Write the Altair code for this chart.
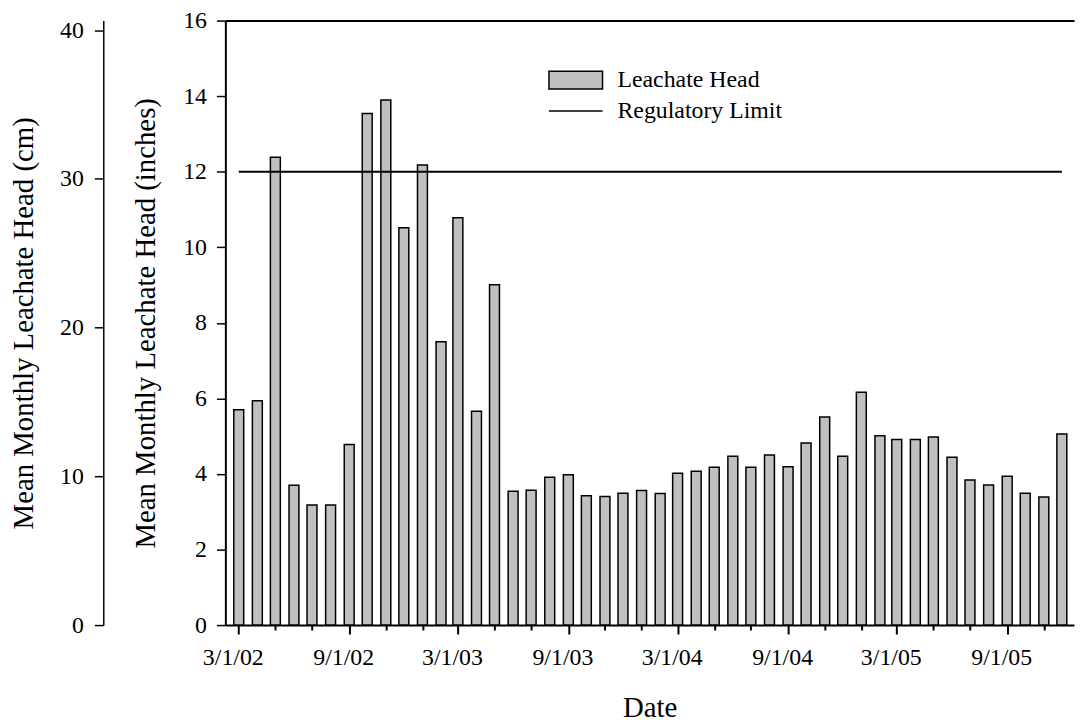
import altair as alt
import pandas as pd

# ---- data ----
months = pd.date_range("2002-03-01", periods=46, freq="MS").strftime("%Y-%m-%dT00:00:00").tolist()
head_in = [5.70, 5.94, 12.38, 3.70, 3.18, 3.18, 4.78, 13.54, 13.90, 10.52, 12.18, 7.50, 10.78, 5.66, 9.01, 3.54,
           3.57, 3.91, 3.98, 3.42, 3.40, 3.49, 3.56, 3.48, 4.02, 4.07, 4.18, 4.47, 4.18, 4.50, 4.19, 4.82,
           5.51, 4.47, 6.16, 5.01, 4.91, 4.91, 4.98, 4.44, 3.84, 3.71, 3.94, 3.49, 3.39, 5.06]
limit_dates = ["2002-03-01T00:00:00", "2005-12-01T00:00:00"]
limit_value = [12, 12]
inch_ticks = [0, 2, 4, 6, 8, 10, 12, 14, 16]
cm_ticks = [0, 10, 20, 30, 40]
tick_dates = pd.date_range("2002-03-01", "2005-11-01", freq="2MS")

FONT = "Liberation Serif"
bars_df = pd.DataFrame({"date": months, "inches": head_in, "series": "Leachate Head"})
bars_df["cm"] = bars_df["inches"] * 2.54
limit_df = pd.DataFrame({"date": limit_dates[:1], "date2": limit_dates[1:], "inches": limit_value[:1],
                         "series": "Regulatory Limit"})

x_domain = [alt.DateTime(year=2002, month=2, date=15), alt.DateTime(year=2005, month=12, date=13)]
x_scale = alt.Scale(domain=x_domain)
x_values = [alt.DateTime(year=d.year, month=d.month, date=1) for d in tick_dates]
major = "month(datum.value) % 6 == 2"

x_axis_bottom = alt.Axis(
    orient="bottom", values=x_values, title="Date", grid=False,
    labelExpr=f"({major}) ? timeFormat(datum.value, '%-m/%-d/%y') : ''",
    labelOverlap=False, labelFlush=False, labelPadding=12, labelOffset=-6,
    tickSize={"condition": {"test": major, "value": 9}, "value": 5},
    tickWidth=2, tickColor="black", domainColor="black", domainWidth=2,
    titlePadding=24,
)
y_axis_in = alt.Axis(
    orient="left", values=inch_ticks, title="Mean Monthly Leachate Head (inches)", grid=False,
    tickSize=9, tickWidth=1.5, tickColor="black", domainColor="black", domainWidth=2,
    labelPadding=10, titlePadding=22.5,
)

bars = alt.Chart(bars_df).mark_bar(size=10, stroke="black", strokeWidth=1.5).encode(
    x=alt.X("date:T", scale=x_scale, axis=x_axis_bottom),
    y=alt.Y("inches:Q", scale=alt.Scale(domain=[0, 16], nice=False), axis=y_axis_in),
    fill=alt.Fill("series:N", scale=alt.Scale(range=["#c0c0c0"]),
                  legend=alt.Legend(title=None, orient="none", legendX=325, legendY=32,
                                    symbolType="M-1,-0.333H1V0.333H-1Z", symbolSize=2916,
                                    symbolStrokeColor="black", symbolStrokeWidth=1.5,
                                    labelOffset=14, padding=0, labelLimit=400)),
)

rule = alt.Chart(limit_df).mark_rule(strokeWidth=2).encode(
    x=alt.X("date:T", scale=x_scale,
            axis=alt.Axis(orient="top", title=None, labels=False, ticks=False, grid=False,
                          domainColor="black", domainWidth=2)),
    x2="date2:T",
    y=alt.Y("inches:Q", scale=alt.Scale(domain=[0, 16], nice=False), axis=None),
    stroke=alt.Stroke("series:N", scale=alt.Scale(range=["black"]),
                      legend=alt.Legend(title=None, orient="none", legendX=325, legendY=63,
                                        symbolType="M-1,0H1", symbolSize=2916,
                                        symbolStrokeWidth=1.5, labelOffset=14, padding=0,
                                        labelLimit=400)),
)

cm_layer = alt.Chart(bars_df).mark_point(opacity=0).encode(
    x=alt.X("date:T", scale=x_scale, axis=None),
    y=alt.Y("cm:Q", scale=alt.Scale(domain=[0, 16 * 2.54], nice=False),
            axis=alt.Axis(orient="left", values=cm_ticks, title="Mean Monthly Leachate Head (cm)",
                          grid=False, offset=123, tickSize=9, tickWidth=1.5, tickColor="black",
                          domainColor="black", domainWidth=1.5, labelPadding=11, titlePadding=21)),
)

chart = alt.layer(bars, rule, cm_layer).resolve_scale(y="independent").resolve_axis(
    x="independent", y="independent"
).properties(
    width=855, height=609,
    autosize=alt.AutoSizeParams(type="none"),
    padding={"left": 219, "top": 10, "right": 1, "bottom": 100},
).configure_view(stroke=None).configure_axis(
    labelFont=FONT, labelFontSize=24, labelColor="black",
    titleFont=FONT, titleFontSize=29, titleFontWeight="normal", titleColor="black",
).configure_legend(
    labelFont=FONT, labelFontSize=24, labelColor="black",
)

chart.save("out.html", embed_options={"renderer": "svg", "actions": False})
